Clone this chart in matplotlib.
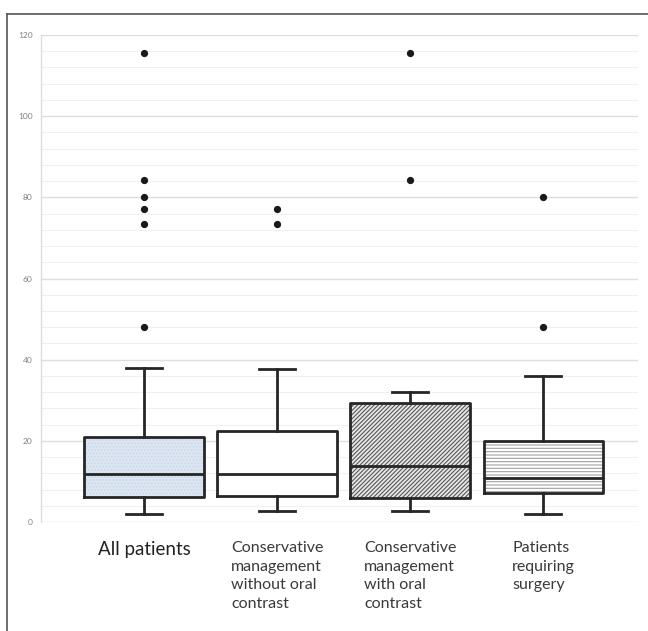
import matplotlib
matplotlib.use("Agg")
import matplotlib.pyplot as plt
from matplotlib.lines import Line2D

categories = ["All patients",
              "Conservative\nmanagement\nwithout oral\ncontrast",
              "Conservative\nmanagement\nwith oral\ncontrast",
              "Patients\nrequiring\nsurgery"]
whislo = [1.9, 2.6, 2.7, 1.9]
q1 = [6.2, 6.4, 5.8, 7.1]
med = [11.8, 11.8, 13.9, 10.8]
q3 = [20.9, 22.5, 29.2, 20.0]
whishi = [38.0, 37.8, 32.1, 36.0]
outliers = [[115.5, 84.2, 80.2, 77.2, 73.4, 48.1],
            [77.2, 73.4],
            [115.5, 84.2],
            [80.2, 48.1]]
yticks = [0, 20, 40, 60, 80, 100, 120]

plt.rcParams['font.family'] = ['Lato', 'DejaVu Sans']
plt.rcParams['hatch.linewidth'] = 0.8

fig = plt.figure(figsize=(6.48, 6.31), dpi=100)
ax = fig.add_axes([41/648, 1-522/631, (638-41)/648, (522-35)/631])

stats = []
for i in range(len(categories)):
    stats.append(dict(label=categories[i], whislo=whislo[i], q1=q1[i], med=med[i],
                      q3=q3[i], whishi=whishi[i], fliers=outliers[i]))

positions = [1, 2, 3, 4]
fills = ['#dce6f2', 'white', '#e8e8e8', 'white']
hatches = ['.....', '', '////////', '-----']
hcolors = ['#cbd7e8', 'white', '#555555', '#a0a0a0']

# fill + hatch layer
b1 = ax.bxp(stats, positions=positions, widths=0.9, patch_artist=True,
            showfliers=False, showcaps=False,
            whiskerprops=dict(linewidth=0), medianprops=dict(linewidth=0),
            boxprops=dict(linewidth=0))
for p, fc, h, hc in zip(b1['boxes'], fills, hatches, hcolors):
    p.set_facecolor(fc)
    p.set_hatch(h)
    p.set_edgecolor(hc)
    p.set_linewidth(0)
    p.set_zorder(2)

# outline layer
lc = '#262626'
b2 = ax.bxp(stats, positions=positions, widths=0.9, patch_artist=False,
            showfliers=True, manage_ticks=False,
            boxprops=dict(color=lc, linewidth=2.0),
            whiskerprops=dict(color=lc, linewidth=2.0),
            capprops=dict(color=lc, linewidth=2.0),
            medianprops=dict(color=lc, linewidth=2.0),
            flierprops=dict(marker='o', markersize=4.2, markerfacecolor='#1a1a1a',
                            markeredgecolor='#1a1a1a'),
            capwidths=0.27)
for k in ['boxes', 'whiskers', 'caps', 'medians', 'fliers']:
    for a in b2[k]:
        a.set_zorder(3)

ax.set_ylim(0, 120)
ax.set_xlim(0.226, 4.71)
ax.set_yticks(yticks)
ax.set_yticks(range(0, 121, 4), minor=True)
ax.yaxis.grid(True, which='major', color='#dedede', linewidth=1.0)
ax.yaxis.grid(True, which='minor', color='#f0f0f0', linewidth=0.8)
ax.set_axisbelow(True)
ax.tick_params(axis='y', which='both', length=0, pad=6, labelsize=6, labelcolor='#808080')
ax.tick_params(axis='x', length=0, pad=14, labelsize=11.5, labelcolor='#3a3a3a')
for s in ['top', 'right', 'bottom']:
    ax.spines[s].set_visible(False)
ax.spines['left'].set_color('#dcdcdc')
ax.spines['left'].set_linewidth(1.0)

labels = ax.get_xticklabels()
for t in labels:
    t.set_multialignment('left')
    t.set_linespacing(1.4)
labels[0].set_fontsize(13.5)
labels[0].set_color('#222222')

# figure frame (left and top)
fig.add_artist(Line2D([7/648, 7/648], [0, 1-14/631], transform=fig.transFigure,
                      color='#555555', linewidth=1.2))
fig.add_artist(Line2D([7/648, 1], [1-14/631, 1-14/631], transform=fig.transFigure,
                      color='#555555', linewidth=1.2))

fig.savefig('out.png', dpi=100)
